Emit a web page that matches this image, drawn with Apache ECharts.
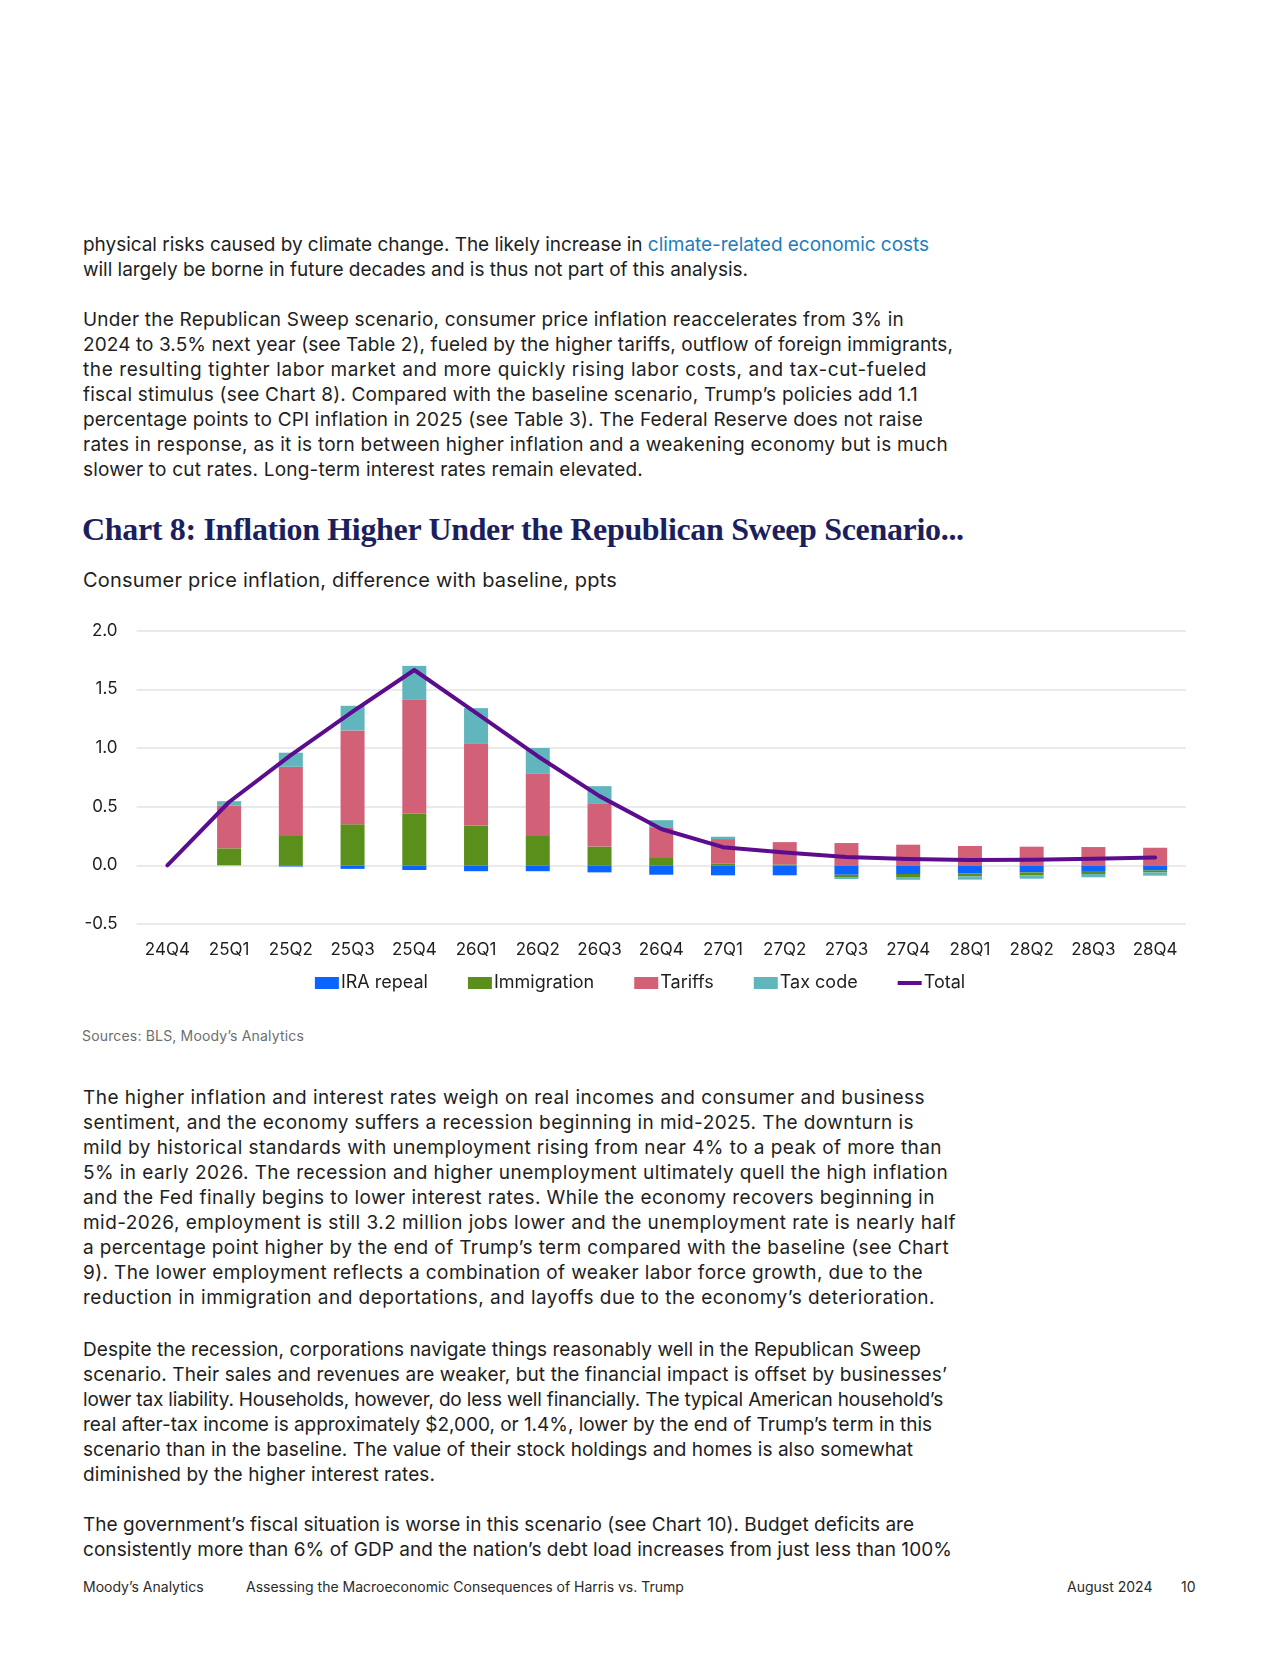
<!DOCTYPE html>
<html>
<head>
<meta charset="utf-8">
<script src="https://cdn.jsdelivr.net/npm/echarts@6/dist/echarts.min.js"></script>
<style>
  html, body { margin: 0; padding: 0; background: #fff; }
  body { width: 1280px; height: 1656px; position: relative; overflow: hidden; font-family: Inter, Roboto, "Liberation Sans", sans-serif; color: #1e1e1e; }
  .ln { position: absolute; left: 83px; white-space: nowrap; font-size: 19px; line-height: 25px; height: 25px; }
  .lk { color: #1d7dc0; }
  #title { position: absolute; left: 82px; top: 510px; font-family: "Liberation Serif", serif; font-weight: bold; font-size: 32px; line-height: 38px; color: #1b1f5e; white-space: nowrap; letter-spacing: -0.33px; }
  #subtitle { position: absolute; left: 83px; top: 567px; font-size: 20px; line-height: 26px; white-space: nowrap; color: #1e1e1e; }
  #chart { position: absolute; left: 0; top: 590px; width: 1280px; height: 420px; }
  #sources { position: absolute; left: 82px; top: 1027px; font-size: 14px; line-height: 18px; color: #6e6e6e; white-space: nowrap; }
  .ft { position: absolute; top: 1578px; font-size: 14px; line-height: 18px; color: #2a2a2a; white-space: nowrap; }
</style>
</head>
<body>
<div class="ln fit" data-w="846" style="top:232px">physical risks caused by climate change. The likely increase in <span class="lk">climate-related economic costs</span></div>
<div class="ln fit" data-w="665" style="top:257px">will largely be borne in future decades and is thus not part of this analysis.</div>

<div class="ln fit" data-w="821" style="top:307px">Under the Republican Sweep scenario, consumer price inflation reaccelerates from 3% in</div>
<div class="ln fit" data-w="870" style="top:332px">2024 to 3.5% next year (see Table 2), fueled by the higher tariffs, outflow of foreign immigrants,</div>
<div class="ln fit" data-w="844" style="top:357px">the resulting tighter labor market and more quickly rising labor costs, and tax-cut-fueled</div>
<div class="ln fit" data-w="835" style="top:382px">fiscal stimulus (see Chart 8). Compared with the baseline scenario, Trump’s policies add 1.1</div>
<div class="ln fit" data-w="840" style="top:407px">percentage points to CPI inflation in 2025 (see Table 3). The Federal Reserve does not raise</div>
<div class="ln fit" data-w="865" style="top:432px">rates in response, as it is torn between higher inflation and a weakening economy but is much</div>
<div class="ln fit" data-w="560" style="top:457px">slower to cut rates. Long-term interest rates remain elevated.</div>

<div id="title">Chart 8: Inflation Higher Under the Republican Sweep Scenario...</div>
<div id="subtitle" class="fit" data-w="534">Consumer price inflation, difference with baseline, ppts</div>

<div id="chart"></div>

<div id="sources" class="fit" data-w="222">Sources: BLS, Moody’s Analytics</div>

<div class="ln fit" data-w="842" style="top:1085px">The higher inflation and interest rates weigh on real incomes and consumer and business</div>
<div class="ln fit" data-w="831" style="top:1110px">sentiment, and the economy suffers a recession beginning in mid-2025. The downturn is</div>
<div class="ln fit" data-w="859" style="top:1135px">mild by historical standards with unemployment rising from near 4% to a peak of more than</div>
<div class="ln fit" data-w="865" style="top:1160px">5% in early 2026. The recession and higher unemployment ultimately quell the high inflation</div>
<div class="ln fit" data-w="852" style="top:1185px">and the Fed finally begins to lower interest rates. While the economy recovers beginning in</div>
<div class="ln fit" data-w="873" style="top:1210px">mid-2026, employment is still 3.2 million jobs lower and the unemployment rate is nearly half</div>
<div class="ln fit" data-w="866" style="top:1235px">a percentage point higher by the end of Trump’s term compared with the baseline (see Chart</div>
<div class="ln fit" data-w="840" style="top:1260px">9). The lower employment reflects a combination of weaker labor force growth, due to the</div>
<div class="ln fit" data-w="852" style="top:1285px">reduction in immigration and deportations, and layoffs due to the economy’s deterioration.</div>

<div class="ln fit" data-w="838" style="top:1337px">Despite the recession, corporations navigate things reasonably well in the Republican Sweep</div>
<div class="ln fit" data-w="864" style="top:1362px">scenario. Their sales and revenues are weaker, but the financial impact is offset by businesses’</div>
<div class="ln fit" data-w="860" style="top:1387px">lower tax liability. Households, however, do less well financially. The typical American household’s</div>
<div class="ln fit" data-w="849" style="top:1412px">real after-tax income is approximately $2,000, or 1.4%, lower by the end of Trump’s term in this</div>
<div class="ln fit" data-w="830" style="top:1437px">scenario than in the baseline. The value of their stock holdings and homes is also somewhat</div>
<div class="ln fit" data-w="352" style="top:1462px">diminished by the higher interest rates.</div>

<div class="ln fit" data-w="831" style="top:1512px">The government’s fiscal situation is worse in this scenario (see Chart 10). Budget deficits are</div>
<div class="ln fit" data-w="869" style="top:1537px">consistently more than 6% of GDP and the nation’s debt load increases from just less than 100%</div>

<div class="ft" style="left:83px">Moody’s Analytics</div>
<div class="ft" style="left:246px">Assessing the Macroeconomic Consequences of Harris vs. Trump</div>
<div class="ft" style="left:1067px">August 2024</div>
<div class="ft" style="left:1181px">10</div>

<script>
const categories = ['24Q4','25Q1','25Q2','25Q3','25Q4','26Q1','26Q2','26Q3','26Q4','27Q1','27Q2','27Q3','27Q4','28Q1','28Q2','28Q3','28Q4'];
const iraRepeal   = [0, 0, -0.01, -0.03, -0.04, -0.05, -0.05, -0.06, -0.08, -0.085, -0.085, -0.08, -0.074, -0.068, -0.06, -0.048, -0.043];
const immigration = [0, 0.145, 0.25, 0.35, 0.44, 0.34, 0.25, 0.16, 0.07, 0.017, 0.008, -0.02, -0.026, -0.026, -0.026, -0.026, -0.017];
const tariffs     = [0, 0.365, 0.59, 0.80, 0.97, 0.70, 0.53, 0.37, 0.255, 0.207, 0.19, 0.19, 0.176, 0.165, 0.159, 0.156, 0.150];
const taxCode     = [0, 0.037, 0.12, 0.21, 0.29, 0.30, 0.22, 0.145, 0.06, 0.02, 0, -0.017, -0.023, -0.028, -0.028, -0.028, -0.028];
const total       = [0, 0.54, 0.94, 1.31, 1.665, 1.30, 0.93, 0.59, 0.31, 0.155, 0.11, 0.072, 0.054, 0.045, 0.047, 0.056, 0.067];
const yTicks = [-0.5, 0.0, 0.5, 1.0, 1.5, 2.0];

// fit text lines to the widths measured on the reference
document.querySelectorAll('.fit').forEach(el => {
  const target = parseFloat(el.dataset.w);
  const w = el.getBoundingClientRect().width;
  const n = el.textContent.length;
  if (n > 1) el.style.letterSpacing = ((target - w) / n).toFixed(3) + 'px';
});

const FONT = 'Inter, Roboto, "Liberation Sans", sans-serif';
const chart = echarts.init(document.getElementById('chart'), null, {renderer: 'canvas'});
const barBase = { type: 'bar', stack: 'total', barWidth: 24, emphasis: {disabled: true} };
chart.setOption({
  animation: false,
  grid: { left: 136.5, top: 40.7, width: 1049.5, height: 293.3 },
  legend: {
    top: 379, left: 'center', itemGap: 40, itemWidth: 24, itemHeight: 12, symbolKeepAspect: true,
    textStyle: { fontSize: 18, color: '#1e1e1e', fontFamily: FONT, padding: [0,0,0,-3] },
    data: [
      {name: 'IRA repeal', icon: 'rect'},
      {name: 'Immigration', icon: 'rect'},
      {name: 'Tariffs', icon: 'rect'},
      {name: 'Tax code', icon: 'rect'},
      {name: 'Total', icon: 'path://M0,0 L24,0 L24,4 L0,4 Z'}
    ]
  },
  xAxis: {
    type: 'category', data: categories,
    axisLine: {show: false}, axisTick: {show: false},
    axisLabel: { fontSize: 17, color: '#1e1e1e', margin: 17, fontFamily: FONT }
  },
  yAxis: {
    type: 'value', min: yTicks[0], max: yTicks[yTicks.length-1], interval: 0.5,
    axisLine: {show: false}, axisTick: {show: false},
    axisLabel: { fontSize: 17, color: '#1e1e1e', margin: 19, fontFamily: FONT, formatter: v => v.toFixed(1) },
    splitLine: { lineStyle: { color: '#e3e3e3', width: 1.5 } }
  },
  series: [
    Object.assign({}, barBase, { name: 'IRA repeal', data: iraRepeal, itemStyle: {color: '#0a64ff'} }),
    Object.assign({}, barBase, { name: 'Immigration', data: immigration, itemStyle: {color: '#5b8f1b'} }),
    Object.assign({}, barBase, { name: 'Tariffs', data: tariffs, itemStyle: {color: '#d26077'} }),
    Object.assign({}, barBase, { name: 'Tax code', data: taxCode, itemStyle: {color: '#61b5bc'} }),
    { name: 'Total', type: 'line', data: total, symbol: 'none', showSymbol: false,
      lineStyle: {color: '#5c0c8e', width: 4, join: 'round', cap: 'round'}, itemStyle: {color: '#5c0c8e'},
      emphasis: {disabled: true}, z: 5 }
  ]
});
</script>
</body>
</html>
